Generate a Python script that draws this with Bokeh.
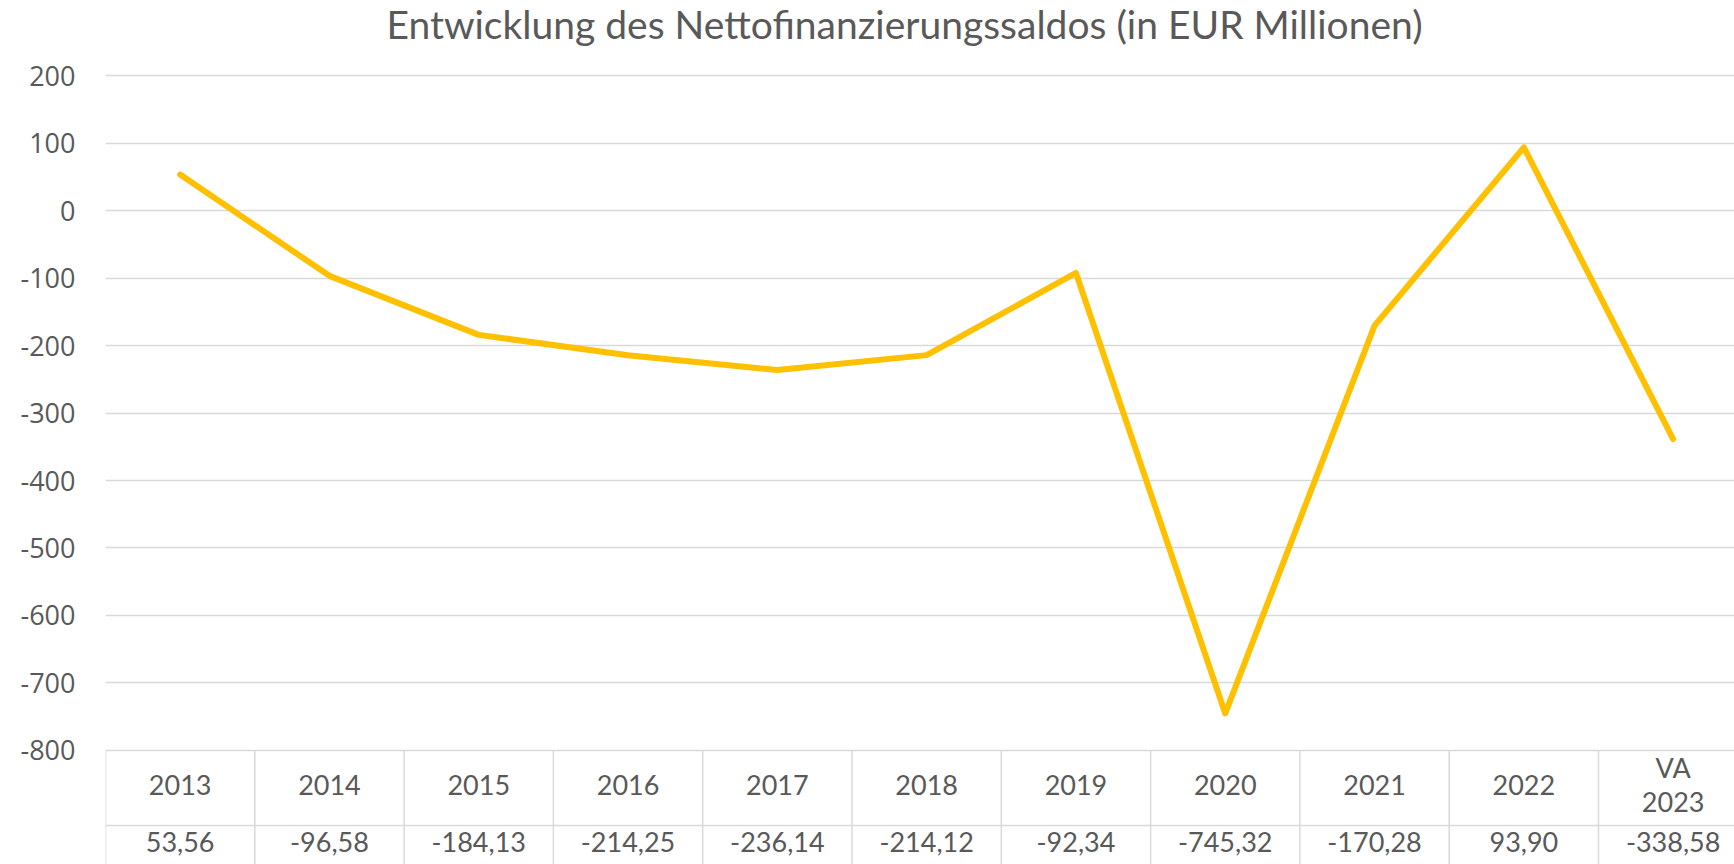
from bokeh.plotting import figure
from bokeh.models import Range1d, FixedTicker
from bokeh.core.properties import value
from bokeh.embed import file_html
from bokeh.resources import INLINE

# ---------------- data ----------------
title = "Entwicklung des Nettofinanzierungssaldos (in EUR Millionen)"
categories = ["2013", "2014", "2015", "2016", "2017", "2018", "2019",
              "2020", "2021", "2022", "VA\n2023"]
saldo = [53.56, -96.58, -184.13, -214.25, -236.14, -214.12, -92.34,
         -745.32, -170.28, 93.90, -338.58]
value_labels = ["53,56", "-96,58", "-184,13", "-214,25", "-236,14", "-214,12",
                "-92,34", "-745,32", "-170,28", "93,90", "-338,58"]
yticks = [200, 100, 0, -100, -200, -300, -400, -500, -600, -700, -800]
ytick_labels = ["200", "100", "0", "-100", "-200", "-300", "-400", "-500",
                "-600", "-700", "-800"]

# ---------------- layout (pixels) ----------------
W, H = 1734, 864
PAGE = 0
FRAME_LEFT = 105          # page x of plot area left edge
FRAME_RIGHT = PAGE + W    # page x of plot area right edge
FRAME_TOP = PAGE
FRAME_BOTTOM = PAGE + H
CAT_W = 149.3             # px per category
Y200 = 75.3               # page y of value 200
PX_PER_UNIT = 0.6745      # px per data unit

def v_at(py):
    return 200 - (py - Y200) / PX_PER_UNIT

def x_at(px):
    return -0.5 + (px - FRAME_LEFT) / CAT_W

x0, x1 = -0.5, x_at(FRAME_RIGHT)
vtop, vbot = v_at(FRAME_TOP), v_at(FRAME_BOTTOM)

grey = "#595959"
gridc = "#D9D9D9"

p = figure(width=W, height=H, output_backend="svg", toolbar_location=None,
           x_range=Range1d(x0, x1), y_range=Range1d(vbot, vtop),
           x_axis_location=None,
           min_border_left=FRAME_LEFT - PAGE, min_border_right=0,
           min_border_top=0, min_border_bottom=0)
p.outline_line_color = None
p.xgrid.visible = False
p.ygrid.ticker = FixedTicker(ticks=yticks)
p.ygrid.grid_line_color = gridc
p.ygrid.grid_line_width = 1.5

ax = p.yaxis[0]
ax.ticker = FixedTicker(ticks=yticks)
ax.major_label_overrides = dict(zip(yticks, ytick_labels))
ax.axis_line_color = None
ax.major_tick_line_color = None
ax.minor_tick_line_color = None
ax.major_tick_out = 0
ax.major_tick_in = 0
ax.major_label_standoff = 30
ax.major_label_text_font = "Open Sans"
ax.major_label_text_font_size = "27px"
ax.major_label_text_color = grey

# data table grid
n = len(categories)
xs = list(range(n))
bounds = [i - 0.5 for i in xs]
row_sep = v_at(825)
p.segment(x0=bounds, y0=[-800] * n, x1=bounds, y1=[vbot] * n,
          line_color=gridc, line_width=1.5)
p.segment(x0=[x0], y0=[row_sep], x1=[x1], y1=[row_sep],
          line_color=gridc, line_width=1.5)

# line series
p.line(xs, saldo, line_color="#FFC000", line_width=6,
       line_cap="round", line_join="round")

# table texts
p.text(x=xs, y=[v_at(784)] * n, text=categories, text_align="center",
       text_baseline="middle", text_font=value("Lato"),
       text_font_size="27px", text_color=grey, text_line_height=1.05)
p.text(x=xs, y=[v_at(841)] * n, text=value_labels, text_align="center",
       text_baseline="middle", text_font=value("Lato"),
       text_font_size="27px", text_color=grey)

# title
p.text(x=[x_at(904)], y=[v_at(23)], text=[title], text_align="center",
       text_baseline="middle", text_font=value("Lato"),
       text_font_size="39px", text_color=grey)

open("out.html", "w").write(file_html(p, INLINE))
